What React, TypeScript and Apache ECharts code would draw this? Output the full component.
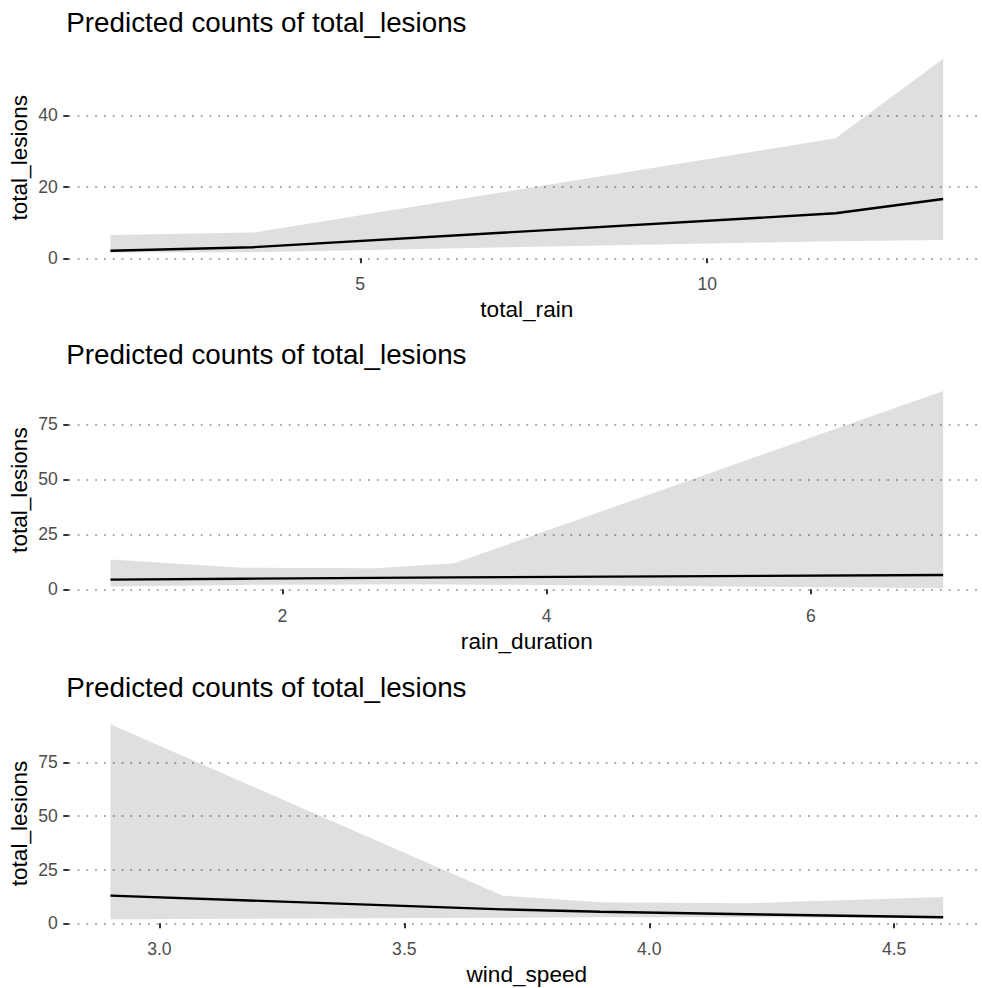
import React, { useEffect, useRef } from 'react';
import * as echarts from 'echarts';

const TITLE = 'Predicted counts of total_lesions';
const Y_NAME = 'total_lesions';

// Panel 1: total_rain
const rainX = [1.4, 3.45, 11.85, 13.4];
const rainPred = [2.1, 3.1, 12.6, 16.6];
const rainLow = [1.6, 1.7, 4.8, 5.1];
const rainHigh = [6.5, 7.2, 33.6, 55.9];
const rainXTicks = [5, 10];
const rainYTicks = [0, 20, 40];

// Panel 2: rain_duration
const durX = [0.7, 1.7, 2.7, 3.3, 7.0];
const durPred = [4.4, 4.8, 5.2, 5.4, 6.5];
const durLow = [1.3, 2.0, 2.2, 2.2, 0.5];
const durHigh = [13.6, 9.8, 9.6, 11.8, 90.2];
const durXTicks = [2, 4, 6];
const durYTicks = [0, 25, 50, 75];

// Panel 3: wind_speed
const windX = [2.9, 3.7, 3.9, 4.2, 4.6];
const windPred = [12.9, 6.5, 5.4, 4.2, 2.8];
const windLow = [1.9, 2.6, 2.8, 2.8, 2.2];
const windHigh = [92.7, 12.9, 9.8, 9.3, 12.3];
const windXTicks = [3.0, 3.5, 4.0, 4.5];
const windYTicks = [0, 25, 50, 75];

const FONT = '"Liberation Sans", Arial, Helvetica, sans-serif';
const BAND = 'rgba(0,0,0,0.125)';
const GRID_COLOR = '#a9a9a9';
const TICK_COLOR = '#333333';
const LABEL_COLOR = '#4d4d4d';

const panels = [
  {
    xName: 'total_rain', x: rainX, pred: rainPred, low: rainLow, high: rainHigh,
    xTicks: rainXTicks, yTicks: rainYTicks, xMin: 0.8, xMax: 14.0, yMin: -2.3, yMax: 58.6,
    top: 49.1, height: 217.4, decimals: 0,
  },
  {
    xName: 'rain_duration', x: durX, pred: durPred, low: durLow, high: durHigh,
    xTicks: durXTicks, yTicks: durYTicks, xMin: 0.385, xMax: 7.315, yMin: -4.5, yMax: 94.7,
    top: 381, height: 218.2, decimals: 0,
  },
  {
    xName: 'wind_speed', x: windX, pred: windPred, low: windLow, high: windHigh,
    xTicks: windXTicks, yTicks: windYTicks, xMin: 2.815, xMax: 4.685, yMin: -4.2, yMax: 97.2,
    top: 714.6, height: 217.7, decimals: 1,
  },
];

const GRID_LEFT = 68.8;
const GRID_WIDTH = 916;

function buildOption() {
  const title: any[] = [];
  const grid: any[] = [];
  const xAxis: any[] = [];
  const yAxis: any[] = [];
  const series: any[] = [];

  panels.forEach((p, i) => {
    title.push({
      text: TITLE,
      left: GRID_LEFT - 2.5,
      top: p.top - 41,
      padding: 0,
      textStyle: { fontFamily: FONT, fontSize: 27.8, fontWeight: 'normal', color: '#000' },
    });
    grid.push({
      left: GRID_LEFT,
      top: p.top,
      width: GRID_WIDTH,
      height: p.height,
      containLabel: false,
      outerBoundsMode: 'none',
    });
    xAxis.push({
      type: 'value',
      gridIndex: i,
      min: p.xMin,
      max: p.xMax,
      axisLine: { show: false },
      axisTick: {
        show: true,
        customValues: p.xTicks,
        length: 5,
        lineStyle: { color: TICK_COLOR, width: 2 },
      },
      axisLabel: {
        customValues: p.xTicks,
        margin: 8,
        fontFamily: FONT,
        fontSize: 17.6,
        color: LABEL_COLOR,
        formatter: (v: number) => v.toFixed(p.decimals),
      },
      splitLine: { show: false },
      name: p.xName,
      nameLocation: 'middle',
      nameGap: 31,
      nameMoveOverlap: false,
      nameTextStyle: { fontFamily: FONT, fontSize: 22.6, color: '#000' },
    });
    yAxis.push({
      type: 'value',
      gridIndex: i,
      min: p.yMin,
      max: p.yMax,
      axisLine: { show: false },
      axisTick: {
        show: true,
        customValues: p.yTicks,
        length: 5.5,
        lineStyle: { color: TICK_COLOR, width: 2 },
      },
      axisLabel: {
        customValues: p.yTicks,
        margin: 11,
        fontFamily: FONT,
        fontSize: 17.6,
        color: LABEL_COLOR,
      },
      splitLine: {
        show: true,
        lineStyle: { color: GRID_COLOR, width: 1.8, type: [1.8, 7] },
      },
      name: Y_NAME,
      nameLocation: 'middle',
      nameGap: 38,
      nameMoveOverlap: false,
      nameTextStyle: { fontFamily: FONT, fontSize: 22.6, color: '#000' },
    });
    series.push({
      type: 'custom',
      xAxisIndex: i,
      yAxisIndex: i,
      silent: true,
      clip: false,
      data: [[p.x[0], p.low[0]]],
      renderItem: (_params: any, api: any) => {
        const pts: number[][] = [];
        for (let k = 0; k < p.x.length; k++) pts.push(api.coord([p.x[k], p.high[k]]));
        for (let k = p.x.length - 1; k >= 0; k--) pts.push(api.coord([p.x[k], p.low[k]]));
        return { type: 'polygon', shape: { points: pts }, style: { fill: BAND } };
      },
      z: 1,
    });
    series.push({
      type: 'line',
      xAxisIndex: i,
      yAxisIndex: i,
      data: p.x.map((xv, k) => [xv, p.pred[k]]),
      showSymbol: false,
      symbol: 'none',
      lineStyle: { color: '#000', width: 2.4 },
      silent: true,
      z: 3,
    });
  });

  return {
    animation: false,
    backgroundColor: '#ffffff',
    title,
    grid,
    xAxis,
    yAxis,
    series,
  };
}

export default function App() {
  const ref = useRef<HTMLDivElement>(null);
  useEffect(() => {
    document.body.style.margin = '0';
    const chart = echarts.init(ref.current as HTMLDivElement, null, { renderer: 'svg' });
    chart.setOption(buildOption() as any);
    return () => {
      chart.dispose();
    };
  }, []);
  return <div ref={ref} style={{ width: 982, height: 988 }} />;
}
